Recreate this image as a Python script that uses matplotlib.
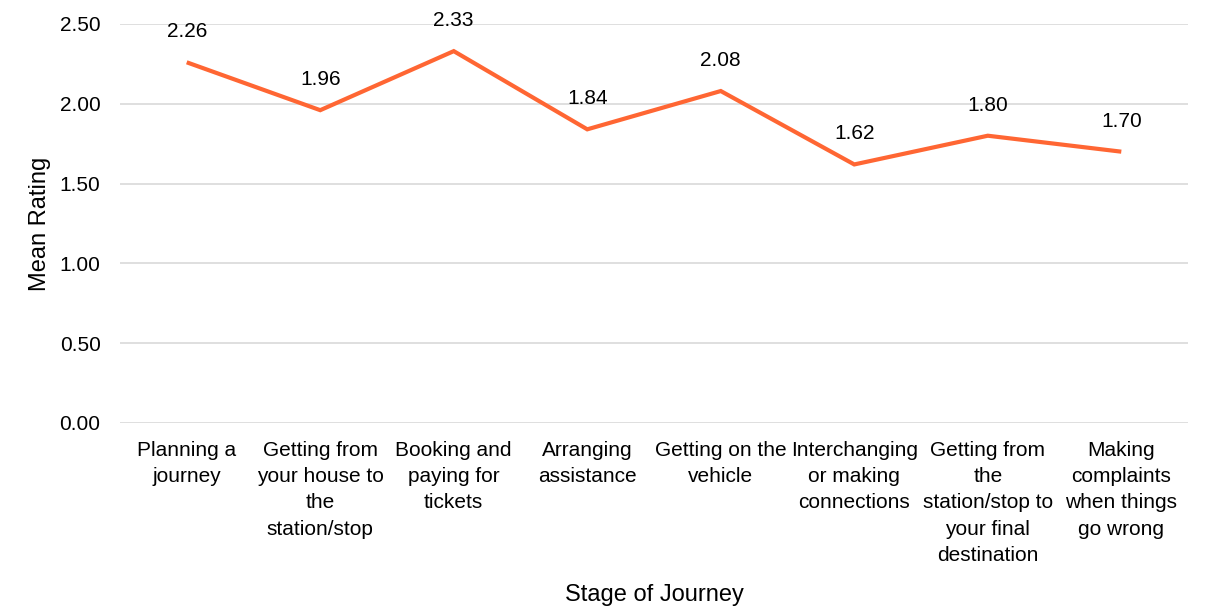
import matplotlib
matplotlib.use("Agg")
import matplotlib.pyplot as plt

plt.rcParams['font.family'] = ['Liberation Sans', 'DejaVu Sans']

stages = [
    'Planning a\njourney',
    'Getting from\nyour house to\nthe\nstation/stop',
    'Booking and\npaying for\ntickets',
    'Arranging\nassistance',
    'Getting on the\nvehicle',
    'Interchanging\nor making\nconnections',
    'Getting from\nthe\nstation/stop to\nyour final\ndestination',
    'Making\ncomplaints\nwhen things\ngo wrong',
]
ratings = [2.26, 1.96, 2.33, 1.84, 2.08, 1.62, 1.80, 1.70]
yticks = [0.0, 0.5, 1.0, 1.5, 2.0, 2.5]

fig = plt.figure(figsize=(12.07, 6.06), dpi=100)
ax = fig.add_axes([0.0994, 0.302, 0.8849, 0.6584])

x = list(range(len(stages)))
ax.plot(x, ratings, color='#FF6633', linewidth=3, solid_joinstyle='miter',
        solid_capstyle='butt', zorder=3)
for xi, v in zip(x, ratings):
    ax.annotate(f'{v:.2f}', (xi, v), xytext=(0, 22), textcoords='offset points',
                ha='center', va='center', fontsize=15, color='black')

ax.set_xlim(-0.5, len(stages) - 0.5)
ax.set_ylim(0, 2.5)
ax.set_yticks(yticks)
ax.set_yticklabels([f'{t:.2f}' for t in yticks], fontsize=15)
ax.set_xticks(x)
ax.set_xticklabels(stages, fontsize=15, linespacing=1.48, va='top')
ax.tick_params(axis='both', length=0)
ax.tick_params(axis='x', pad=13)
ax.tick_params(axis='y', pad=14)
ax.grid(axis='y', color='#D9D9D9', linewidth=1.2)
ax.set_axisbelow(True)
for s in ax.spines.values():
    s.set_visible(False)

ax.set_ylabel('Mean Rating', fontsize=17, labelpad=6.5)
ax.set_xlabel('Stage of Journey', fontsize=17, labelpad=14)

fig.savefig('out.png', dpi=100)
